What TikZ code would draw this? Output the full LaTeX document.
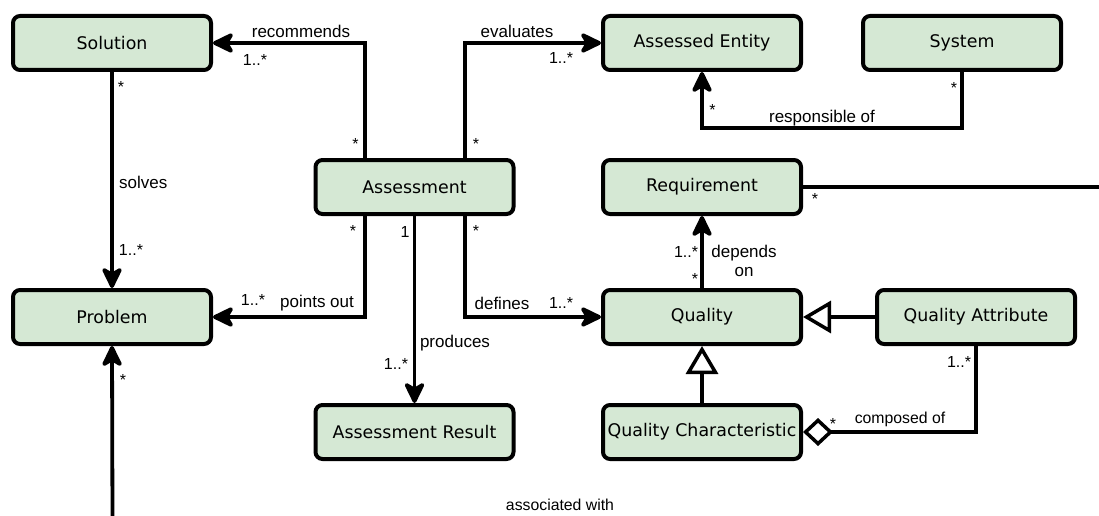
\documentclass[tikz,border=0pt]{standalone}
\usepackage{fontspec}
\setmainfont{DejaVu Sans}
\newfontfamily\labfont{Liberation Sans}
\usetikzlibrary{arrows.meta}
\definecolor{boxfill}{HTML}{D5E8D4}
\tikzset{
  cls/.style={draw=black, fill=boxfill, line width=4pt, rounded corners=7pt, minimum width=198pt, minimum height=54pt, inner sep=0pt, font=\fontsize{17.4}{20}\selectfont},
  assoc/.style={draw=black, line width=3.8pt, arrows={-Stealth[length=25pt,width=24pt,inset=7pt,round=false]}},
  link/.style={draw=black, line width=3.8pt},
  gen/.style={draw=black, line width=3.8pt, arrows={-Triangle[open,length=28pt,width=32pt,fill=white,line width=3.5pt]}},
  aggr/.style={draw=black, line width=3.8pt, arrows={-Diamond[open,length=30pt,width=28pt,fill=white,line width=3.5pt]}},
  lab/.style={font=\labfont\fontsize{17}{19}\selectfont, inner sep=0pt},
  labs/.style={font=\labfont\fontsize{15.8}{18}\selectfont, inner sep=0pt},
  mult/.style={font=\labfont\fontsize{16}{18}\selectfont, inner sep=0pt},
}

\begin{document}
\begin{tikzpicture}[x=1pt,y=-1pt]
  \useasboundingbox (0,0) rectangle (1099,516);
  % classes
  \node[cls] (sol)  at (112,43)    {Solution};
  \node[cls] (prob) at (112,317)   {Problem};
  \node[cls] (asmt) at (414.5,187) {Assessment};
  \node[cls] (ares) at (414.5,432) {Assessment Result};
  \node[cls] (ae)   at (702,43)    {Assessed Entity};
  \node[cls] (sys)  at (962,43)    {System};
  \node[cls] (req)  at (702,187)   {Requirement};
  \node[cls] (qual) at (702,317)   {Quality};
  \node[cls] (qa)   at (976,317)   {Quality Attribute};
  \node[cls] (qc)   at (702,432)   {Quality Characteristic};
  \coordinate (pbot) at (112.5,522);
  \coordinate (rend) at (1103,187);

  % associations
  \draw[assoc] ([xshift=-49.5pt]asmt.north) |- (sol.east);
  \draw[assoc] ([xshift=50.5pt]asmt.north) |- (ae.west);
  \draw[assoc] (sol.south) -- (prob.north);
  \draw[assoc] ([xshift=-49.5pt]asmt.south) |- (prob.east);
  \draw[assoc] (asmt.south) -- (ares.north);
  \draw[assoc] ([xshift=50.5pt]asmt.south) |- (qual.west);
  \draw[assoc] (sys.south) -- ++(0,56) -| (ae.south);
  \draw[assoc] (qual.north) -- (req.south);
  \draw[assoc] (pbot) -- (prob.south);
  \draw[link] (req.east) -- (rend);
  \draw[gen] (qa.west) -- (qual.east);
  \draw[gen] (qc.north) -- (qual.south);
  \draw[aggr] (qa.south) |- (qc.east);

  % labels
  \node[lab] (lrec) at (301,31) {recommends};
  \node[mult] (mrec1) at (255,60) {1..*};
  \node[mult] (mrec2) at (355.5,144) {*};
  \node[lab] (leva) at (517,31) {evaluates};
  \node[mult] (meva1) at (561,58) {1..*};
  \node[mult] (meva2) at (476,144) {*};
  \node[mult] (msol1) at (121,87) {*};
  \node[lab, anchor=west] (lsol) at (119,182) {solves};
  \node[mult] (msol2) at (131,250) {1..*};
  \node[mult] (mpnt1) at (353,231) {*};
  \node[mult] (mpnt2) at (253,300) {1..*};
  \node[lab] (lpnt) at (317,303) {points out};
  \node[mult] (mprd1) at (405,232) {1};
  \node[lab] (lprd) at (455,343) {produces};
  \node[mult] (mprd2) at (396,364) {1..*};
  \node[mult] (mdef1) at (476,231) {*};
  \node[lab] (ldef) at (502,303) {defines};
  \node[mult] (mdef2) at (561,303) {1..*};
  \node[mult] (mres1) at (954,88) {*};
  \node[mult] (mres2) at (712.5,110) {*};
  \node[lab] (lres) at (822,118) {responsible of};
  \node[mult] (mreq) at (815,199) {*};
  \node[mult] (mdep1) at (686,252) {1..*};
  \node[mult] (mdep2) at (695,279) {*};
  \node[lab, align=center] (ldep) at (744,261) {depends\\on};
  \node[mult] (mcmp1) at (959,362) {1..*};
  \node[mult] (mcmp2) at (833,424) {*};
  \node[labs] (lcmp) at (900,419) {composed of};
  \node[mult] (mprb) at (123,380) {*};
  \node[labs] (lass) at (560,505) {associated with};
\end{tikzpicture}
\end{document}
